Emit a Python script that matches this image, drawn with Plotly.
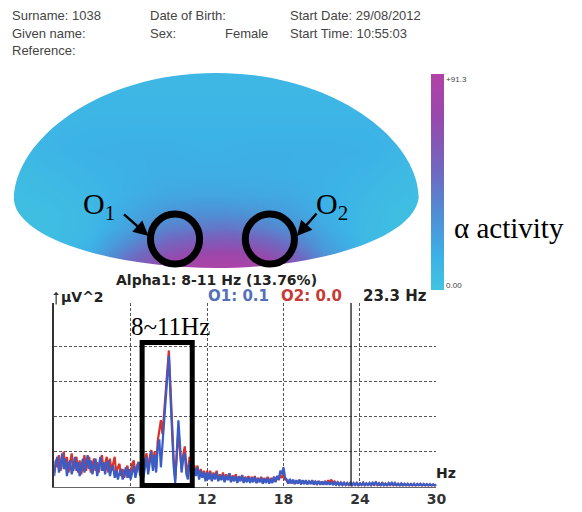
import plotly.graph_objects as go

# the page body has an 8px margin, so the figure is placed at (8, 8)
OFF = 8
W, H = 582 - OFF, 512 - OFF
def px(x): return (x - OFF) / W
def py(y): return 1 - (y - OFF) / H

SANS = "Liberation Sans, Arial, sans-serif"
BOLD = "DejaVu Sans, Verdana, sans-serif"
SERIF = "Liberation Serif, Times New Roman, serif"

# ---------------- data ----------------
freq_hz = [k * 0.125 for k in range(241)]  # 0 .. 30 Hz bins

o1_power = [
    # 0 - 6 Hz
    0.30, 0.70, 0.85, 0.40, 0.60, 0.95, 0.50, 0.80, 0.30, 0.65,
    0.75, 0.35, 0.55, 0.85, 0.45, 0.70, 0.30, 0.60, 0.80, 0.40,
    0.65, 0.90, 0.50, 0.75, 0.35, 0.60, 0.80, 0.30, 0.55, 0.85,
    0.45, 0.70, 0.35, 0.65, 0.75, 0.30, 0.50, 0.60, 0.25, 0.45,
    0.20, 0.40, 0.50, 0.20, 0.35, 0.55, 0.25, 0.50, 0.20,
    # 6.125 - 12 Hz
    0.45, 0.60, 0.25, 0.50, 0.70, 0.30, 0.55, 0.25, 0.60, 0.85,
    0.35, 0.70, 1.00, 0.45, 0.90, 0.40, 1.10, 1.35, 0.55, 1.20,
    1.80, 2.50, 3.20, 3.75, 2.60, 1.40, 0.60, 0.10, 1.00, 1.90,
    1.20, 0.40, 0.80, 0.95, 0.35, 0.20, 0.70, 0.55, 0.25, 0.50,
    0.30, 0.55, 0.20, 0.45, 0.25, 0.40, 0.15, 0.40,
    # 12.125 - 18 Hz
    0.20, 0.40, 0.15, 0.35, 0.20, 0.40, 0.15, 0.30, 0.18, 0.35,
    0.12, 0.30, 0.18, 0.38, 0.12, 0.28, 0.15, 0.30, 0.10, 0.28,
    0.15, 0.32, 0.10, 0.25, 0.12, 0.28, 0.10, 0.25, 0.12, 0.28,
    0.10, 0.22, 0.12, 0.26, 0.08, 0.22, 0.10, 0.25, 0.08, 0.22,
    0.10, 0.28, 0.12, 0.30, 0.20, 0.45, 0.35, 0.55,
    # 18.125 - 24 Hz
    0.25, 0.20, 0.08, 0.22, 0.08, 0.20, 0.07, 0.18, 0.08, 0.20,
    0.06, 0.18, 0.07, 0.18, 0.06, 0.16, 0.07, 0.18, 0.05, 0.15,
    0.06, 0.16, 0.05, 0.14, 0.05, 0.15, 0.05, 0.13, 0.05, 0.14,
    0.04, 0.12, 0.05, 0.13, 0.04, 0.11, 0.04, 0.12, 0.04, 0.10,
    0.04, 0.11, 0.03, 0.10, 0.04, 0.10, 0.03, 0.09,
    # 24.125 - 30 Hz
    0.04, 0.11, 0.03, 0.09, 0.04, 0.10, 0.03, 0.12, 0.04, 0.14,
    0.03, 0.09, 0.03, 0.10, 0.03, 0.08, 0.03, 0.10, 0.03, 0.12,
    0.04, 0.10, 0.03, 0.08, 0.03, 0.09, 0.02, 0.08, 0.03, 0.08,
    0.02, 0.07, 0.03, 0.08, 0.02, 0.07, 0.03, 0.08, 0.02, 0.07,
    0.03, 0.07, 0.02, 0.07, 0.02, 0.06, 0.02, 0.06,
]

o2_power = [
    # 0 - 6 Hz
    0.40, 0.75, 0.55, 0.90, 0.45, 0.70, 1.00, 0.50, 0.85, 0.40,
    0.75, 0.95, 0.45, 0.65, 0.85, 0.40, 0.75, 0.35, 0.70, 0.90,
    0.45, 0.70, 0.85, 0.40, 0.60, 0.80, 0.45, 0.70, 0.40, 0.75,
    0.90, 0.45, 0.65, 0.85, 0.40, 0.80, 0.45, 0.70, 0.85, 0.35,
    0.55, 0.65, 0.30, 0.50, 0.25, 0.45, 0.60, 0.25, 0.40,
    # 6.125 - 12 Hz
    0.65, 0.75, 0.30, 0.60, 0.70, 0.35, 0.65, 0.30, 0.75, 0.95,
    0.45, 0.85, 1.05, 0.55, 1.00, 0.50, 1.30, 1.60, 1.90, 1.50,
    2.10, 2.60, 3.40, 3.90, 2.90, 1.60, 0.80, 0.20, 0.90, 1.60,
    1.00, 0.50, 0.90, 1.15, 0.60, 0.40, 0.85, 0.70, 0.35, 0.60,
    0.35, 0.60, 0.25, 0.50, 0.30, 0.45, 0.20, 0.45,
    # 12.125 - 18 Hz
    0.25, 0.45, 0.18, 0.40, 0.25, 0.45, 0.18, 0.35, 0.20, 0.40,
    0.15, 0.35, 0.20, 0.38, 0.15, 0.32, 0.18, 0.35, 0.12, 0.30,
    0.18, 0.33, 0.12, 0.28, 0.15, 0.30, 0.12, 0.28, 0.15, 0.30,
    0.10, 0.25, 0.14, 0.28, 0.10, 0.25, 0.12, 0.28, 0.10, 0.25,
    0.12, 0.28, 0.14, 0.30, 0.18, 0.32, 0.25, 0.35,
    # 18.125 - 24 Hz
    0.20, 0.18, 0.08, 0.20, 0.10, 0.18, 0.08, 0.17, 0.09, 0.19,
    0.07, 0.17, 0.08, 0.16, 0.07, 0.15, 0.08, 0.17, 0.06, 0.14,
    0.07, 0.15, 0.06, 0.14, 0.06, 0.16, 0.07, 0.18, 0.10, 0.20,
    0.08, 0.16, 0.05, 0.12, 0.05, 0.11, 0.04, 0.11, 0.04, 0.10,
    0.04, 0.10, 0.03, 0.09, 0.04, 0.10, 0.03, 0.09,
    # 24.125 - 30 Hz
    0.04, 0.10, 0.03, 0.09, 0.04, 0.09, 0.03, 0.10, 0.04, 0.11,
    0.03, 0.09, 0.03, 0.11, 0.03, 0.08, 0.03, 0.09, 0.03, 0.10,
    0.03, 0.08, 0.03, 0.07, 0.02, 0.08, 0.03, 0.07, 0.02, 0.07,
    0.03, 0.07, 0.02, 0.07, 0.02, 0.07, 0.03, 0.06, 0.02, 0.07,
    0.02, 0.06, 0.02, 0.06, 0.02, 0.06, 0.02, 0.05,
]

x_ticks = [6, 12, 18, 24, 30]
x_tick_labels = ["6", "12", "18", "24", "30"]
cursor_hz = 23.3

# topographic alpha map (values 0 .. 91.3), grid in map units
map_x = [11, 50, 90, 130, 170, 200, 230, 260, 290, 330, 370, 400, 429]
map_y = [66, 90, 120, 150, 175, 195, 212, 228, 244, 258, 272]
map_z = [
    [10, 10, 10, 10, 10, 10, 10, 10, 10, 10, 10, 10, 10],
    [10, 10, 10, 10, 10, 10, 10, 10, 10, 10, 10, 10, 10],
    [10, 11, 12, 12, 12, 12, 12, 12, 12, 12, 12, 11, 10],
    [9, 12, 14, 15, 15, 14, 14, 15, 15, 15, 14, 12, 9],
    [6, 9, 12, 14, 16, 16, 16, 16, 15, 14, 12, 9, 6],
    [5, 7, 10, 15, 19, 20, 20, 19, 18, 14, 10, 7, 5],
    [4, 5, 9, 18, 27, 30, 30, 28, 24, 15, 9, 5, 4],
    [4, 5, 9, 22, 38, 42, 44, 40, 32, 18, 8, 5, 4],
    [4, 5, 12, 34, 54, 62, 64, 60, 48, 24, 9, 5, 4],
    [5, 7, 17, 46, 70, 80, 82, 78, 64, 32, 11, 7, 5],
    [6, 8, 20, 52, 78, 88, 90, 86, 72, 36, 12, 8, 6],
]
z_min, z_max = 0.0, 91.3

colorscale = [
    [0.0, "rgb(66,196,224)"],
    [0.15, "rgb(60,178,230)"],
    [0.35, "rgb(80,142,212)"],
    [0.55, "rgb(112,104,192)"],
    [0.8, "rgb(152,72,172)"],
    [1.0, "rgb(178,66,166)"],
]

fig = go.Figure()

# head map
fig.add_trace(go.Heatmap(
    x=map_x, y=map_y, z=map_z, zmin=z_min, zmax=z_max, zsmooth="best",
    colorscale=colorscale, xaxis="x2", yaxis="y2", hoverinfo="skip",
    colorbar=dict(x=px(439), xanchor="left", y=py(182), yanchor="middle",
                  len=216, lenmode="pixels", thickness=13, thicknessmode="pixels",
                  xpad=0, ypad=0, outlinewidth=0, ticks="", tickvals=[2.0, 89.0],
                  ticktext=["0.00", "+91.3"], ticklabelposition="outside",
                  tickfont=dict(family=SANS, size=8, color="#444")),
))

# spectrum
fig.add_trace(go.Scatter(x=freq_hz, y=o2_power, mode="lines",
                         line=dict(color="#D8322C", width=2.2), hoverinfo="skip"))
fig.add_trace(go.Scatter(x=freq_hz, y=o1_power, mode="lines",
                         line=dict(color="#3A5CC6", width=2.2), hoverinfo="skip"))

Y_TOP = 5.26

fig.update_layout(
    width=W, height=H, margin=dict(l=0, r=0, t=0, b=0),
    paper_bgcolor="white", plot_bgcolor="rgba(0,0,0,0)", showlegend=False,
    xaxis=dict(domain=[px(55), px(444)], range=[0, 30], tickvals=x_ticks,
               ticktext=x_tick_labels, ticks="", showgrid=True,
               gridcolor="#555", griddash="3px,2px", gridwidth=1,
               zeroline=False, showline=True, linecolor="#666", linewidth=1,
               tickfont=dict(family=BOLD, size=14, color="#333", weight="bold"),
               anchor="y", fixedrange=True),
    yaxis=dict(domain=[py(486.5), py(303)], range=[0, Y_TOP],
               tickvals=[1, 2, 3, 4, Y_TOP], showticklabels=False, ticks="",
               showgrid=True, gridcolor="#555", griddash="3px,2px", gridwidth=1,
               zeroline=False, showline=True, linecolor="#333", linewidth=1.5,
               anchor="x", fixedrange=True),
    xaxis2=dict(domain=[px(8), px(442)], range=[8, 442], visible=False,
                anchor="y2", fixedrange=True),
    yaxis2=dict(domain=[py(282), py(58)], range=[282, 58], visible=False,
                anchor="x2", fixedrange=True),
)

# white mask outside the dome-shaped head outline
dome = ("M 14 200 C 14 140 100 73 220 73 C 340 73 426 140 426 198 "
        "C 420 240 320 268 220 268 C 120 268 18 240 14 200 Z")
mask = "M -20 40 L 470 40 L 470 300 L -20 300 Z " + dome
shapes = [
    dict(type="path", path=mask, xref="x2", yref="y2", fillcolor="white",
         fillrule="evenodd", line=dict(width=0), layer="above"),
    # cursor line
    dict(type="line", xref="x", yref="y", x0=cursor_hz, x1=cursor_hz,
         y0=0, y1=Y_TOP, line=dict(color="#333", width=1.5)),
    # 8~11 Hz box
    dict(type="rect", xref="paper", yref="paper", x0=px(144.5), x1=px(195.5),
         y0=py(485.5), y1=py(342.5), line=dict(color="black", width=5)),
    # electrode circles
    dict(type="circle", xref="paper", yref="paper", x0=px(153), x1=px(203),
         y0=py(264), y1=py(214), line=dict(color="black", width=7)),
    dict(type="circle", xref="paper", yref="paper", x0=px(249.5), x1=px(299.5),
         y0=py(264), y1=py(214), line=dict(color="black", width=7)),
]
fig.update_layout(shapes=shapes)

def txt(x, y, s, size=12, color="#444", family=SANS, anchor="left", bold=False):
    fig.add_annotation(x=px(x), y=py(y), xref="paper", yref="paper", text=s,
                       showarrow=False, xanchor=anchor, yanchor="middle",
                       borderpad=0,
                       font=dict(family=family, size=size, color=color,
                                 weight="bold" if bold else "normal"))

# header
txt(11, 16, "Surname: 1038", size=13)
txt(11, 33, "Given name:", size=13)
txt(11, 50, "Reference:", size=13)
txt(152, 16, "Date of Birth:", size=13)
txt(152, 33, "Sex:", size=13)
txt(228, 33, "Female", size=13)
txt(294, 16, "Start Date: 29/08/2012", size=13)
txt(294, 33, "Start Time: 10:55:03", size=13)

# spectrum labels
txt(220, 280, "Alpha1: 8-11 Hz (13.76%)", size=14, color="#222", family=BOLD, anchor="center", bold=True)
txt(61, 297, "µV^2", size=14, color="#222", family=BOLD, bold=True)
txt(211, 296, "O1: 0.1", size=15, color="#5470B8", family=BOLD, bold=True)
txt(285, 296, "O2: 0.0", size=15, color="#C83A35", family=BOLD, bold=True)
txt(368, 296, "23.3 Hz", size=15, color="#222", family=BOLD, bold=True)
txt(454, 473, "Hz", size=14, color="#222", family=BOLD, anchor="center", bold=True)

# overlay annotations (serif)
txt(173, 326, "8~11Hz", size=25, color="black", family=SERIF, anchor="center")
txt(461, 228, "α activity", size=29, color="black", family=SERIF)
txt(101, 206, "O<sub>1</sub>", size=30, color="black", family=SERIF, anchor="center")
txt(338, 206, "O<sub>2</sub>", size=30, color="black", family=SERIF, anchor="center")

# arrows
fig.add_annotation(x=px(151), y=py(236), xref="paper", yref="paper", text="",
                   showarrow=True, ax=-26, ay=-23, arrowhead=2, arrowsize=1.2,
                   arrowwidth=2.5, arrowcolor="black")
fig.add_annotation(x=px(302), y=py(236), xref="paper", yref="paper", text="",
                   showarrow=True, ax=21, ay=-24, arrowhead=2, arrowsize=1.2,
                   arrowwidth=2.5, arrowcolor="black")
# y-axis arrow tip
fig.add_annotation(x=px(57), y=py(292), xref="paper", yref="paper", text="",
                   showarrow=True, ax=0, ay=14, arrowhead=1, arrowsize=0.8,
                   arrowwidth=1.2, arrowcolor="#333")

fig.write_html("out.html")
